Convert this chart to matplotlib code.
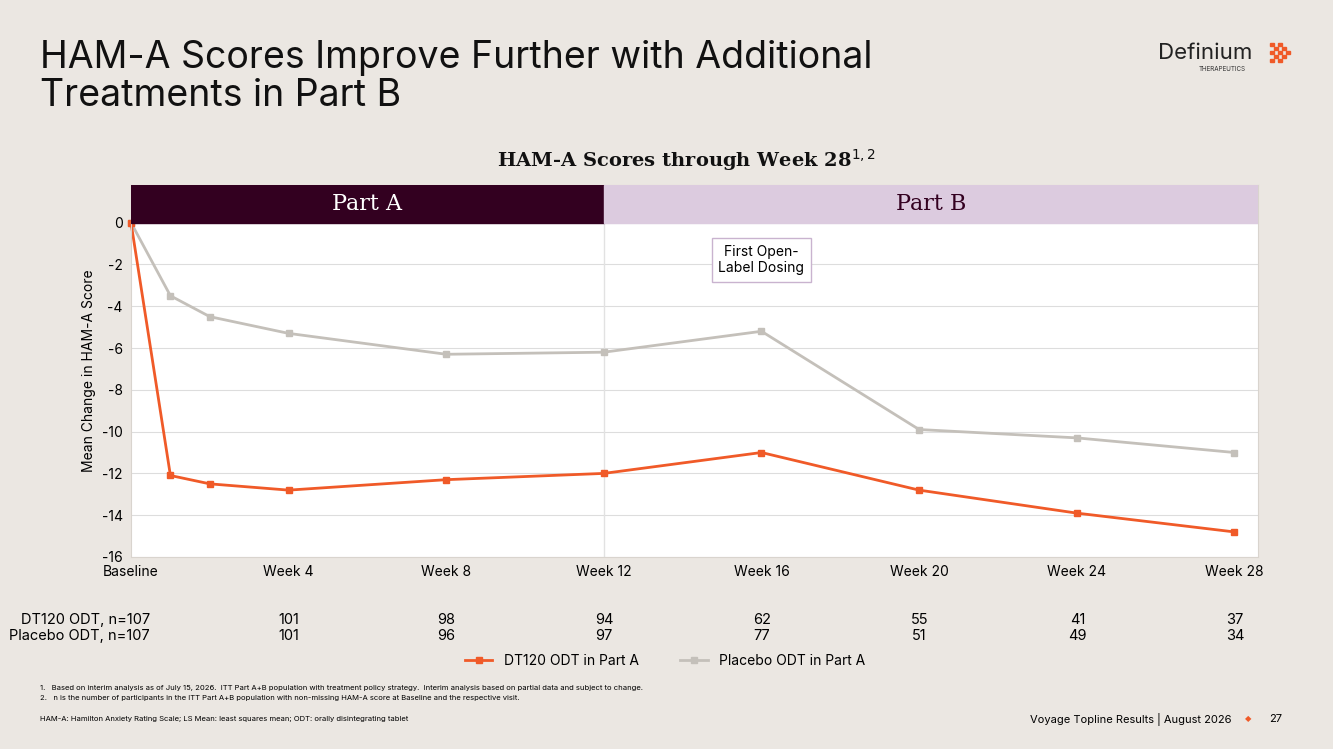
import matplotlib.pyplot as plt
from matplotlib.patches import Rectangle

plt.rcParams['font.family'] = ['Inter', 'DejaVu Sans']
plt.rcParams['axes.unicode_minus'] = False

weeks = [0, 1, 2, 4, 8, 12, 16, 20, 24, 28]
dt120 = [0, -12.1, -12.5, -12.8, -12.3, -12.0, -11.0, -12.8, -13.9, -14.8]
placebo = [0, -3.5, -4.5, -5.3, -6.3, -6.2, -5.2, -9.9, -10.3, -11.0]
tick_weeks = [0, 4, 8, 12, 16, 20, 24, 28]
tick_labels = ['Baseline', 'Week 4', 'Week 8', 'Week 12', 'Week 16', 'Week 20', 'Week 24', 'Week 28']
n_dt120 = [101, 98, 94, 62, 55, 41, 37]
n_placebo = [101, 96, 97, 77, 51, 49, 34]

bg = '#ebe7e2'
orange = '#f05a28'
grey = '#c4c0ba'

fig = plt.figure(figsize=(13.33, 7.49), dpi=100, facecolor=bg)
W, H = 1333, 749

def fx(px):
    return px / W

def fy(py):
    return 1 - py / H

fig.text(fx(40), fy(77), 'HAM-A Scores Improve Further with Additional\nTreatments in Part B',
         fontsize=27, va='center', ha='left', color='#111111', linespacing=1.05)
fig.text(fx(1158), fy(53), 'Definium', fontsize=16, ha='left', va='center', color='#222222')
fig.text(fx(1222), fy(69), 'THERAPEUTICS', fontsize=4.5, ha='center', va='center', color='#333333')
for dx, dy in [(0, 0), (8, 0), (4, 4), (12, 4), (0, 8), (8, 8), (16, 8), (4, 12), (12, 12), (0, 16), (8, 16)]:
    fig.patches.append(Rectangle((fx(1270 + dx), fy(46 + dy)), 3.5 / W, 3.5 / H, color=orange,
                                 transform=fig.transFigure, figure=fig))
fig.text(fx(687), fy(160), 'HAM-A Scores through Week 28$^{1,2}$', fontsize=14, ha='center', va='center',
         fontweight='bold', family='DejaVu Serif', color='#111111')

ax = fig.add_axes([fx(131), fy(557), fx(1258 - 131), (557 - 185) / H])
ax.set_facecolor('white')
ax.set_xlim(0, 28.6)
ax.set_ylim(-16, 1.8)
ax.set_yticks(range(-16, 1, 2))
ax.set_xticks(tick_weeks)
ax.set_xticklabels(tick_labels)
ax.tick_params(length=0, labelsize=10, pad=6)
ax.grid(axis='y', color='#dddddd', linewidth=0.8)
ax.set_axisbelow(True)
for s in ax.spines.values():
    s.set_color('#d9d4ce')
ax.axvline(12, color='#e2e2e2', linewidth=1)
ax.add_patch(Rectangle((0, 0), 12, 1.8, color='#330020', zorder=3))
ax.add_patch(Rectangle((12, 0), 16.6, 1.8, color='#dccbdf', zorder=3))
ax.text(6, 0.9, 'Part A', color='white', fontsize=16, ha='center', va='center', family='DejaVu Serif', zorder=4)
ax.text(20.3, 0.9, 'Part B', color='#330020', fontsize=16, ha='center', va='center', family='DejaVu Serif', zorder=4)
ax.text(16, -1.8, 'First Open-\nLabel Dosing', fontsize=10, ha='center', va='center',
        bbox=dict(boxstyle='square,pad=0.5', fc='white', ec='#c9b3cf'))
ax.plot(weeks, placebo, color=grey, marker='s', markersize=5, linewidth=2, label='Placebo ODT in Part A', clip_on=False)
ax.plot(weeks, dt120, color=orange, marker='s', markersize=5, linewidth=2, label='DT120 ODT in Part A', clip_on=False)
ax.set_ylabel('Mean Change in HAM-A Score', fontsize=10)

for i, w in enumerate(tick_weeks[1:]):
    x = fx(131 + w * 39.43)
    fig.text(x, fy(620), str(n_dt120[i]), fontsize=10.5, ha='center', va='center')
    fig.text(x, fy(636), str(n_placebo[i]), fontsize=10.5, ha='center', va='center')
fig.text(fx(150), fy(620), 'DT120 ODT, n=107', fontsize=10.5, ha='right', va='center')
fig.text(fx(150), fy(636), 'Placebo ODT, n=107', fontsize=10.5, ha='right', va='center')

h, l = ax.get_legend_handles_labels()
fig.legend(h[::-1], l[::-1], loc='center', bbox_to_anchor=(fx(665), fy(661)), ncol=2, frameon=False,
           fontsize=10, columnspacing=3, handlelength=2)

fig.text(fx(40), fy(688), '1.   Based on interim analysis as of July 15, 2026.  ITT Part A+B population with treatment policy strategy.  Interim analysis based on partial data and subject to change.',
         fontsize=5.5, va='center')
fig.text(fx(40), fy(698), '2.   n is the number of participants in the ITT Part A+B population with non-missing HAM-A score at Baseline and the respective visit.',
         fontsize=5.5, va='center')
fig.text(fx(40), fy(719), 'HAM-A: Hamilton Anxiety Rating Scale; LS Mean: least squares mean; ODT: orally disintegrating tablet',
         fontsize=5.5, va='center')
fig.text(fx(1232), fy(719), 'Voyage Topline Results | August 2026', fontsize=8, ha='right', va='center')
fig.text(fx(1248), fy(719), '◆', fontsize=6, ha='center', va='center', color=orange, family='DejaVu Sans')
fig.text(fx(1276), fy(719), '27', fontsize=8, ha='center', va='center')

fig.savefig('out.png', dpi=100, facecolor=bg)
